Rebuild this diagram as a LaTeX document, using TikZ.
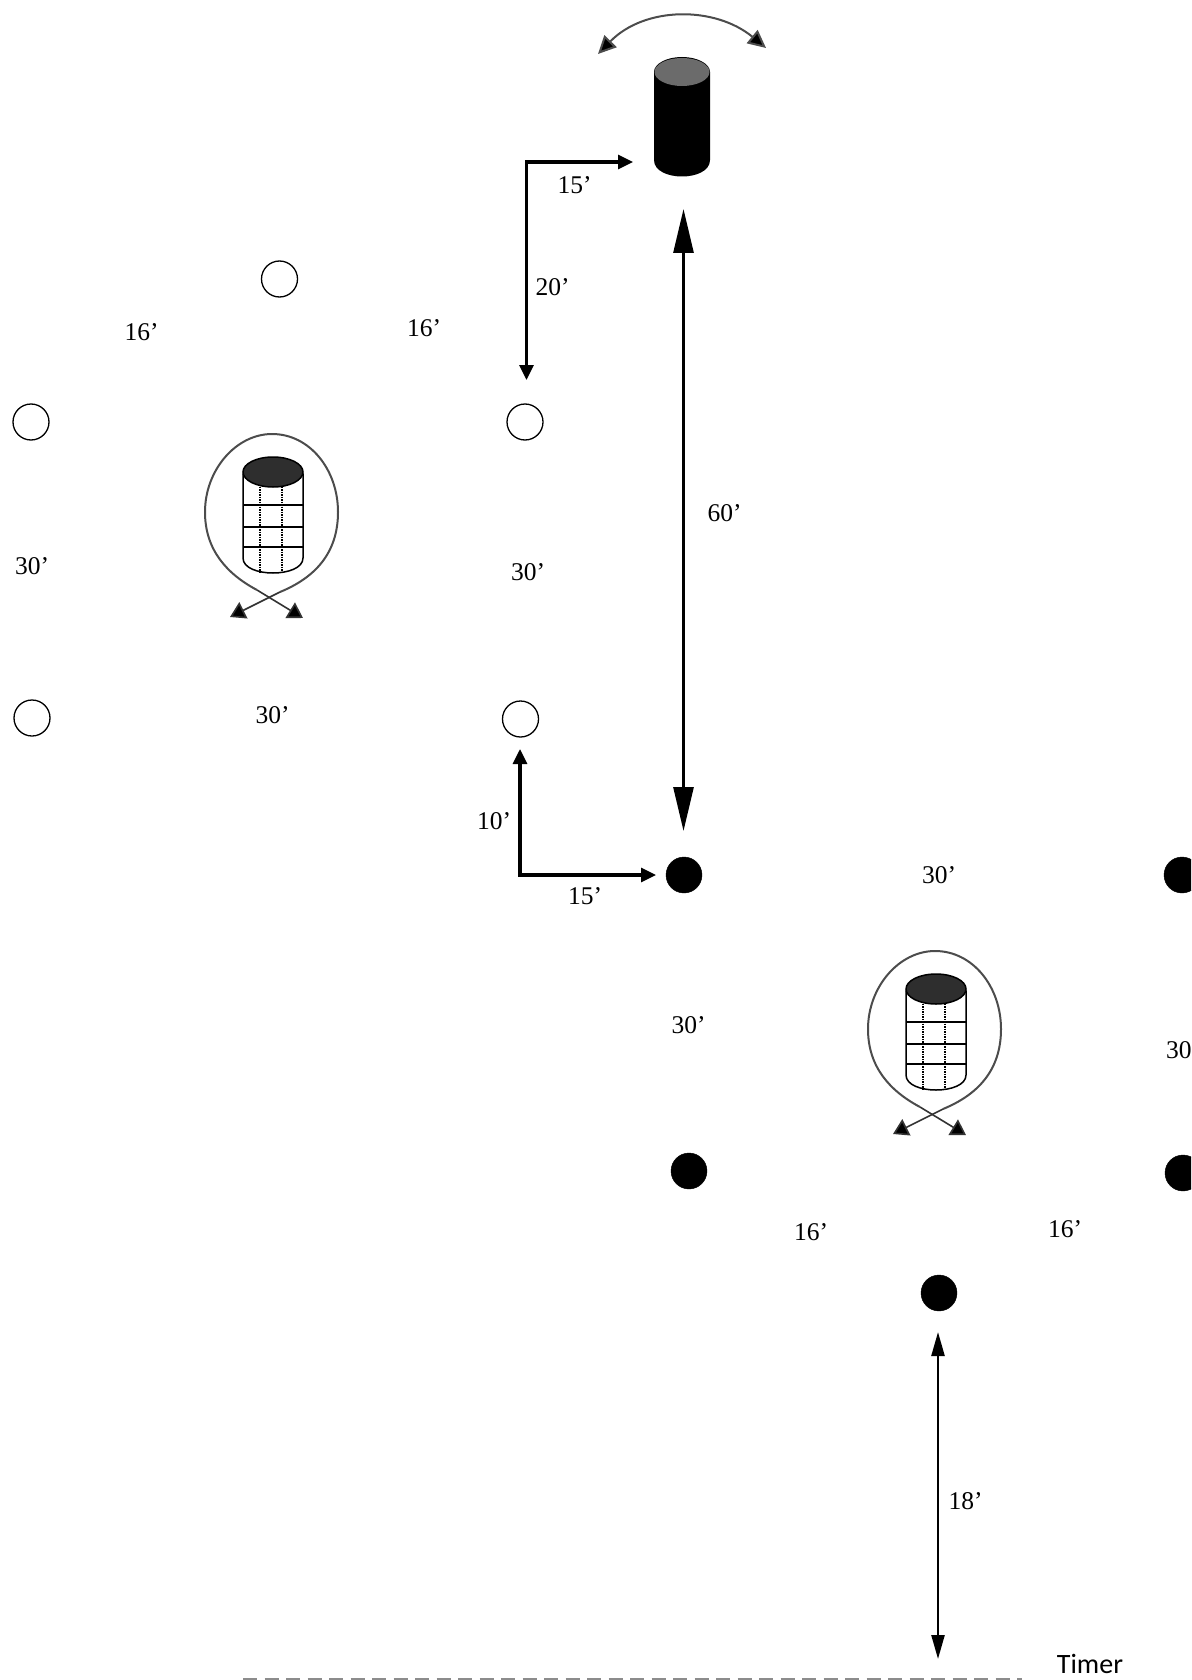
\documentclass[tikz,border=0pt]{standalone}
\usepackage{fontspec}
\setmainfont{Liberation Serif}
\newfontfamily\timerfont{Carlito}
\usetikzlibrary{arrows.meta}
\tikzset{
 whitecone/.style={circle,draw=black,line width=1.3pt,fill=white,minimum size=36pt,inner sep=0pt},
 blackcone/.style={circle,draw=black,fill=black,minimum size=36pt,inner sep=0pt},
 dist/.style={inner sep=0pt,font=\fontsize{25.5}{27}\selectfont},
 thickarrow/.style={line width=3.2pt,line cap=rect,-{Triangle[length=15pt,width=14pt]}},
 longarrow/.style={line width=2.8pt,{Triangle[length=44pt,width=20pt]}-{Triangle[length=44pt,width=20pt]}},
 midarrow/.style={line width=2.4pt,{Triangle[length=24pt,width=13pt]}-{Triangle[length=24pt,width=13pt]}},
 swing/.style={line width=2pt,draw=black!70,{Triangle[length=18pt,width=17pt,fill=black]}-{Triangle[length=18pt,width=17pt,fill=black]}},
 goalline/.style={line width=2pt,draw=black!70},
 goalarrow/.style={line width=1.6pt,draw=black!80,-{Triangle[length=15pt,width=18pt,fill=black]}},
 pic/.style={line width=1.5pt},
 cornerpt/.style={inner sep=0pt,minimum size=0pt},
}
\newcommand{\goalbasket}[3]{%
\begin{scope}[shift={(#1,#2)}]
 \coordinate (#3c) at (0,0);
 \draw[goalline] (-15,78) .. controls (-45,62) and (-67,38) .. (-67,0) .. controls (-67,-42) and (-36,-78) .. (0,-78) .. controls (38,-78) and (66,-42) .. (66,0) .. controls (66,42) and (42,66) .. (8,80);
 \draw[goalarrow] (8,80) -- (-42,105);
 \draw[goalarrow] (-15,78) -- (31,106);
 \draw[pic,fill=white] (-29,-38) -- (-29,46) .. controls (-29,66) and (31,66) .. (31,46) -- (31,-38) -- cycle;
 \foreach \yy in {-7,15,35} \draw[pic] (-29,\yy) -- (31,\yy);
 \foreach \xx in {-12,10} \draw[line width=2.6pt,dash pattern=on 1.8pt off 0.7pt] (\xx,-28) -- (\xx,60);
 \draw[pic,fill=black!82] (1,-40) ellipse (30 and 15);
\end{scope}}
\begin{document}
\begin{tikzpicture}[x=1pt,y=-1pt]
\useasboundingbox (0,0) rectangle (1191,1680);
\clip (0,0) rectangle (1191,1680);
% white cones
\node[whitecone] (w1) at (279.5,279) {};
\node[whitecone] (w2) at (31,422) {};
\node[whitecone] (w3) at (525,422) {};
\node[whitecone] (w4) at (32,718) {};
\node[whitecone] (w5) at (520.5,719) {};
% black cones
\node[blackcone] (b1) at (684,875) {};
\node[blackcone] (b2) at (1182,875) {};
\node[blackcone] (b3) at (689,1171) {};
\node[blackcone] (b4) at (1183,1173) {};
\node[blackcone] (b5) at (939,1293) {};
% goals
\goalbasket{272}{512}{g1}
\goalbasket{935}{1029}{g2}
% cylinder
\node[cornerpt] (cyl) at (682,116) {};
\fill[black] (654,72) -- (654,160) .. controls (654,182) and (710,182) .. (710,160) -- (710,72) -- cycle;
\fill[black] (682,72) ellipse (28 and 15);
\fill[black!58] (682,72) ellipse (27.5 and 14);
% swing arrow
\coordinate (sl) at (598,54);
\coordinate (sr) at (766,48);
\draw[swing] (sl) .. controls (645,6) and (715,6) .. (sr);
% coach arrows
\coordinate (c1) at (526.5,162);
\coordinate (c1a) at (633,162);
\coordinate (c1b) at (526.5,380);
\draw[thickarrow] (c1) -- (c1a);
\draw[thickarrow] (c1) -- (c1b);
\coordinate (c2) at (520,875);
\coordinate (c2a) at (656,875);
\coordinate (c2b) at (520,749);
\draw[thickarrow] (c2) -- (c2a);
\draw[thickarrow] (c2) -- (c2b);
% 60 arrow
\coordinate (m1) at (683.5,209);
\coordinate (m2) at (683.5,831);
\draw[longarrow] (m1) -- (m2);
% 18 arrow
\coordinate (t1) at (938,1332);
\coordinate (t2) at (938,1659);
\draw[midarrow] (t1) -- (t2);
% end line
\coordinate (e1) at (243,1679);
\coordinate (e2) at (1022,1679);
\draw[line width=1.2pt,draw=black!45,dash pattern=on 14pt off 7.5pt] (e1) -- (e2);
% labels
\node[dist] (l1) at (574.5,185.5) {15’};
\node[dist] (l2) at (552.5,287.5) {20’};
\node[dist] (l3) at (141.5,332) {16’};
\node[dist] (l4) at (424,328) {16’};
\node[dist] (l5) at (724.5,513) {60’};
\node[dist] (l6) at (32,566) {30’};
\node[dist] (l7) at (528,572) {30’};
\node[dist] (l8) at (272.5,715) {30’};
\node[dist] (l9) at (494,821) {10’};
\node[dist] (l10) at (585,896) {15’};
\node[dist] (l11) at (939,875) {30’};
\node[dist] (l12) at (688.5,1025) {30’};
\node[dist] (l13) at (1183,1050) {30’};
\node[dist] (l14) at (811,1232) {16’};
\node[dist] (l15) at (1065,1229) {16’};
\node[dist] (l16) at (965.5,1501) {18’};
\node[inner sep=0pt,font=\timerfont\fontsize{28}{30}\selectfont] (l17) at (1090,1664) {Timer};
\end{tikzpicture}
\end{document}
